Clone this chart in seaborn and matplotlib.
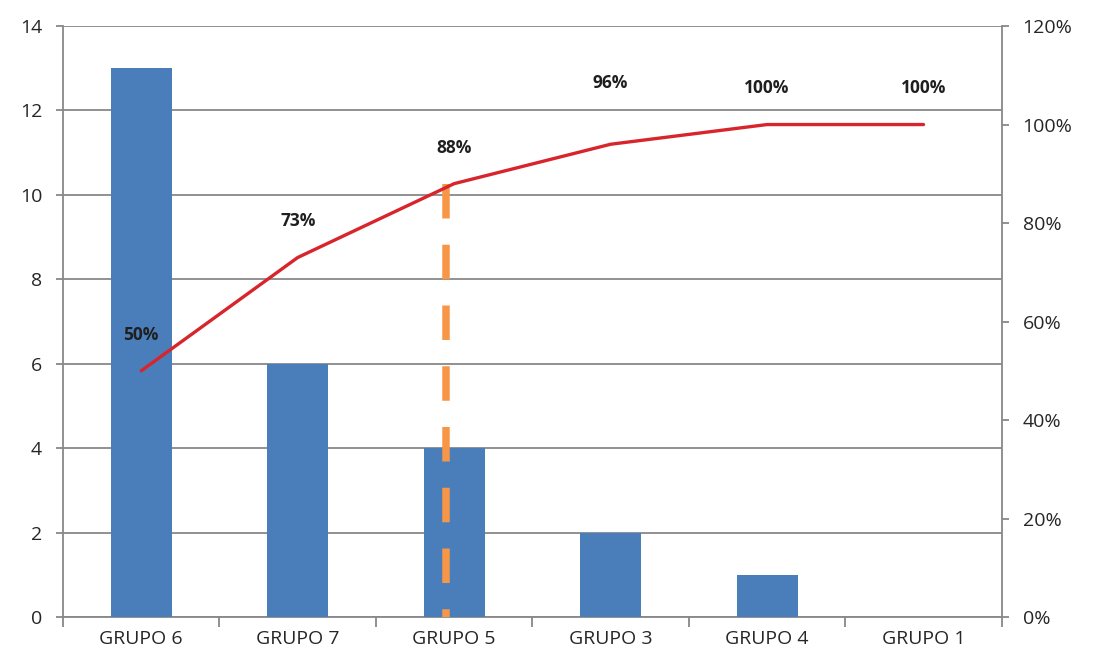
import numpy as np
import pandas as pd
import seaborn as sns
from matplotlib import pyplot as plt
from matplotlib.ticker import PercentFormatter

grupos = ['GRUPO 6', 'GRUPO 7', 'GRUPO 5', 'GRUPO 3', 'GRUPO 4', 'GRUPO 1']
frecuencia = [13, 6, 4, 2, 1, 0]
acumulado = [0.50, 0.73, 0.88, 0.96, 1.00, 1.00]
etiquetas = ['50%', '73%', '88%', '96%', '100%', '100%']
corte = 'GRUPO 5'

sns.set_style('white')
plt.rcParams['font.family'] = ['Open Sans', 'DejaVu Sans']

df = pd.DataFrame({'grupo': grupos, 'frecuencia': frecuencia, 'acumulado': acumulado})
df['pos'] = np.arange(len(df))

fig = plt.figure(figsize=(10.96, 6.68), dpi=100)
ax = fig.add_axes([0.0575, 0.0763, 0.8565, 0.8847])

sns.barplot(data=df, x='grupo', y='frecuencia', color='#4a7ebb', saturation=1,
            width=0.39, linewidth=0, ax=ax, zorder=3)
ax.set_ylim(0, 14)
ax.set_yticks(range(0, 15, 2))
ax.set_xlim(-0.5, len(df) - 0.5)
ax.set_xlabel('')
ax.set_ylabel('')
ax.grid(axis='y', color='#888888', lw=1.3, zorder=0)
ax.set_axisbelow(True)

ax2 = ax.twinx()
sns.lineplot(data=df, x='pos', y='acumulado', color='#d8252c', lw=2.4, ax=ax2, zorder=6)
ax2.set_ylim(0, 1.2)
ax2.set_yticks(np.arange(0, 1.21, 0.2))
ax2.yaxis.set_major_formatter(PercentFormatter(1.0, decimals=0))
ax2.set_ylabel('')
ax2.set_xlabel('')

# etiquetas del acumulado
offs = [26, 26, 26, 44, 26, 26]
for i, (v, t) in enumerate(zip(acumulado, etiquetas)):
    ax2.annotate(t, (i, v), xytext=(0, offs[i]), textcoords='offset points',
                 ha='center', va='center', fontsize=12.5, fontweight='bold',
                 color='#1f1f1f')

# linea de corte (80/20), dibujada de arriba hacia abajo
ic = grupos.index(corte)
ax2.plot([ic - 0.05, ic - 0.05], [acumulado[ic], 0], color='#f79646', lw=5.4,
         dashes=(4.6, 3.5), dash_capstyle='butt', zorder=5)

# ejes y ticks
for a in (ax, ax2):
    a.spines['top'].set_visible(False)
    for s in ('left', 'right', 'bottom'):
        a.spines[s].set_color('#888888')
        a.spines[s].set_linewidth(1.3)
ax.spines['right'].set_visible(False)
ax2.spines['left'].set_visible(False)
ax2.spines['bottom'].set_visible(False)

ax.tick_params(axis='y', left=True, length=5, width=1.3, color='#888888',
               labelsize=14, labelcolor='#262626', pad=10)
ax2.tick_params(axis='y', right=True, length=5, width=1.3, color='#888888',
                labelsize=14, labelcolor='#262626', pad=10)
ax.set_xticks(np.arange(len(df) + 1) - 0.5, minor=True)
ax.tick_params(axis='x', which='major', bottom=False, length=0, labelsize=14,
               labelcolor='#262626', pad=9)
ax.tick_params(axis='x', which='minor', bottom=True, length=7, color='#888888', width=1.3)

fig.savefig('out.png', dpi=100)
